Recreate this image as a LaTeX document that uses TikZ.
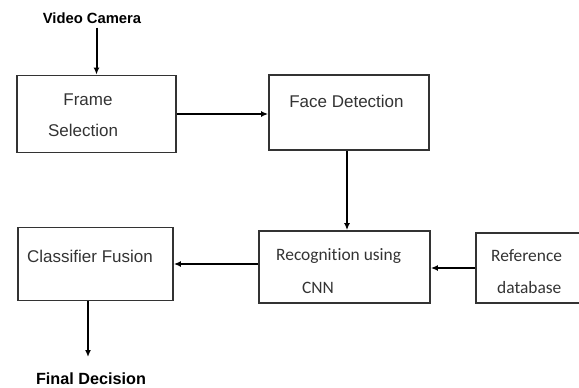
\documentclass[tikz,border=0pt]{standalone}
\usepackage{fontspec}
\setmainfont{Liberation Sans}
\newfontfamily\calfont[Ligatures=NoCommon]{Carlito}
\usetikzlibrary{arrows.meta}
\definecolor{inkgray}{HTML}{333333}
\tikzset{
  blockbox/.style={draw=inkgray, line width=1.8pt, inner sep=0pt},
  flowarrow/.style={line width=2pt, -{Latex[length=7pt,width=6pt]}},
  boxtext/.style={font=\fontsize{17}{20}\selectfont, text=inkgray, inner sep=0pt},
  caltext/.style={font=\calfont\fontsize{17.4}{20}\selectfont, text=inkgray, inner sep=0pt, anchor=west},
  endtext/.style={font=\bfseries, text=black, inner sep=0pt}
}
\begin{document}
\begin{tikzpicture}[x=1pt,y=-1pt]
\useasboundingbox (0,0) rectangle (579,388);
% blocks
\node[blockbox, minimum width=159pt, minimum height=77pt] (frame) at (96.5,114) {};
\node[blockbox, minimum width=160pt, minimum height=75pt] (face) at (349,112.5) {};
\node[blockbox, minimum width=171pt, minimum height=72pt] (recog) at (344.5,267) {};
\node[blockbox, minimum width=110pt, minimum height=70pt] (refdb) at (531,268) {};
\node[blockbox, minimum width=155pt, minimum height=73pt] (fusion) at (95.5,264) {};
% texts
\node[endtext, font=\bfseries\fontsize{14.8}{17}\selectfont] (camera) at (92,18) {Video Camera};
\node[boxtext] (frame1) at (88,100) {Frame};
\node[boxtext] (frame2) at (83,130) {Selection};
\node[boxtext] (facetxt) at (346.5,101) {Face Detection};
\node[boxtext, anchor=west] (fusiontxt) at (27,256) {Classifier Fusion};
\node[caltext] (recog1) at (276,256) {Recognition using};
\node[caltext] (recog2) at (302,288) {CNN};
\node[caltext] (ref1) at (491,256) {Reference};
\node[caltext] (ref2) at (497,288) {database};
\node[endtext, font=\bfseries\fontsize{16.2}{19}\selectfont] (decision) at (91,378.5) {Final Decision};
\coordinate (decend) at (88,357);
% connectors
\draw[flowarrow] (frame.north |- camera.south) ++(0,4) -- (frame.north);
\draw[flowarrow] (frame.east) -- (frame.east -| face.west);
\draw[flowarrow] ([xshift=-2pt]face.south) -- ([xshift=-2pt]face.south |- recog.north);
\draw[flowarrow] (refdb.west) -- (refdb.west -| recog.east);
\draw[flowarrow] (recog.west |- fusion.east) -- (fusion.east);
\draw[flowarrow] (decend |- fusion.south) -- (decend);
\end{tikzpicture}
\end{document}
